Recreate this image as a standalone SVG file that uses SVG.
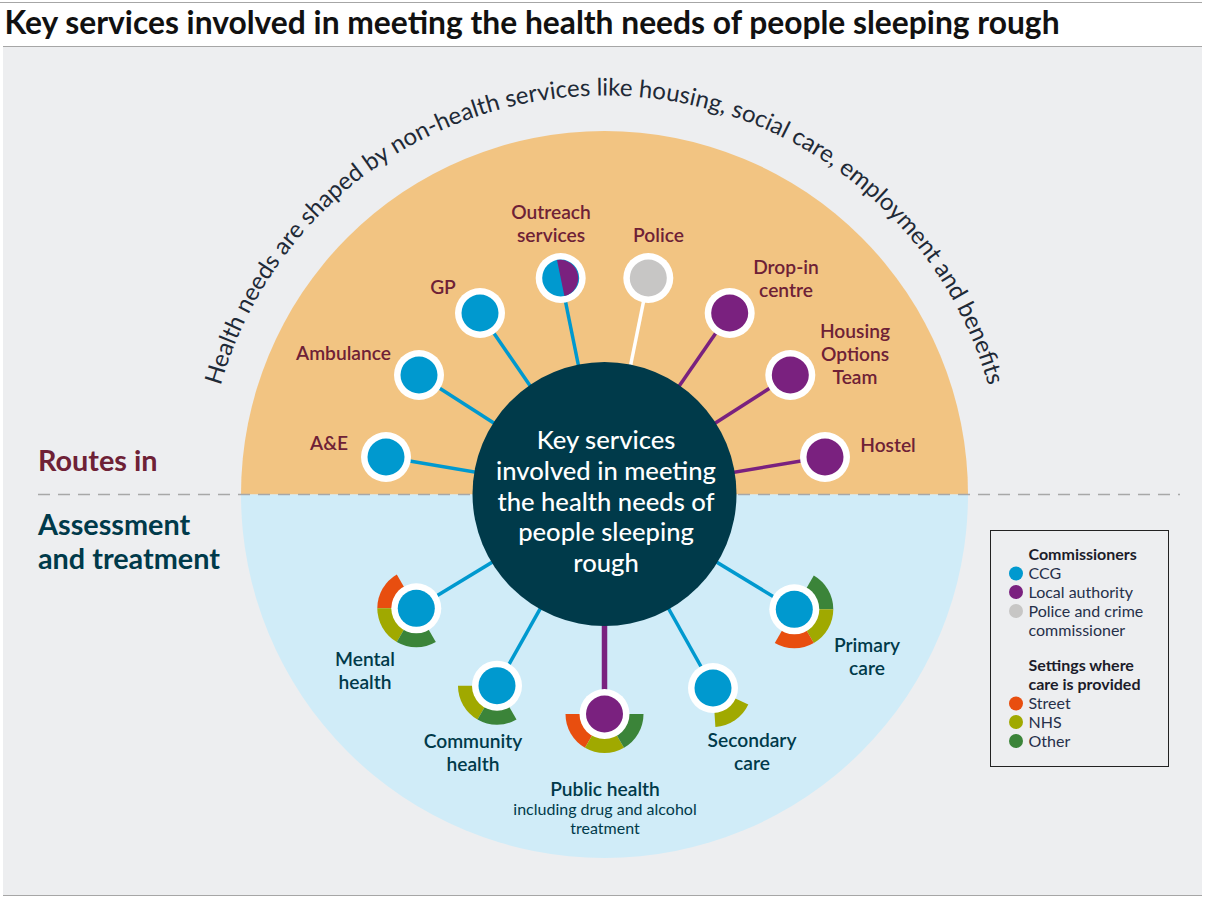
<svg xmlns="http://www.w3.org/2000/svg" width="1206" height="899" viewBox="0 0 1206 899">
<style>
text{font-family:Lato,"Noto Sans",sans-serif}
.r{font-size:19.200px;font-weight:600;fill:#6e2136;text-anchor:middle}
.a{font-size:19.200px;font-weight:600;fill:#003a4a;text-anchor:middle}
.c{font-size:25.600px;font-weight:500;fill:#fff;text-anchor:middle}
.h{font-size:28.800px;font-weight:700}
.l{font-size:16px;fill:#26304a}
.lb{font-size:16px;font-weight:700;fill:#1c1c2a}
.o{fill:#fff}
.blue{fill:#0099cf}.pur{fill:#7a217f}.gry{fill:#c7c6c5}
.st{fill:#e84e0f}.nh{fill:#a0a900}.ot{fill:#3b8439}
#connectors line{stroke-width:3.500}
</style>
<defs>
<path id="arc" d="M 205.500 494.500 A 399 399 0 0 1 1003.500 494.500"/>
</defs>
<rect width="1206" height="899" fill="#fff"/>
<rect x="3" y="47" width="1199" height="848" fill="#edeef0"/>
<path d="M0 2.500H1202M3 46.500H1202M3 895.500H1202" stroke="#a6a6a6" fill="none"/>
<text x="4.500" y="34" font-size="31.780" font-weight="700" fill="#111">Key services involved in meeting the health needs of people sleeping rough</text>
<path d="M241 494.500A363.500 363.500 0 0 1 968 494.500Z" fill="#f2c482"/>
<path d="M241 494.500A363.500 363.500 0 0 0 968 494.500Z" fill="#d0ecf8"/>
<line x1="38" y1="494.500" x2="1180" y2="494.500" stroke="#a8a8a8" stroke-width="1.500" stroke-dasharray="12 8"/>
<text font-size="24" fill="#1f2a37" text-anchor="middle"><textPath href="#arc" startOffset="50%">Health needs are shaped by non-health services like housing, social care, employment and benefits</textPath></text>
<text class="h" x="38" y="471" fill="#6e2136">Routes in</text>
<text class="h" x="38" y="535" fill="#003a4a">Assessment</text>
<text class="h" x="38" y="569" fill="#003a4a">and treatment</text>
<g id="connectors">
<line x1="604.500" y1="494" x2="386" y2="457" stroke="#0099cf"/>
<line x1="604.500" y1="494" x2="419" y2="375" stroke="#0099cf"/>
<line x1="604.500" y1="494" x2="480" y2="313" stroke="#0099cf"/>
<line x1="604.500" y1="494" x2="560.700" y2="278" stroke="#0099cf"/>
<line x1="604.500" y1="494" x2="648.300" y2="278" stroke="#fff"/>
<line x1="604.500" y1="494" x2="729.700" y2="313" stroke="#7a217f"/>
<line x1="604.500" y1="494" x2="790.300" y2="375" stroke="#7a217f"/>
<line x1="604.500" y1="494" x2="825" y2="457" stroke="#7a217f"/>
<line x1="604.500" y1="494" x2="416.300" y2="608.300" stroke="#0099cf"/>
<line x1="604.500" y1="494" x2="497" y2="685.700" stroke="#0099cf"/>
<line x1="604.500" y1="494" x2="604.500" y2="714" stroke="#7a217f" style="stroke-width:5.500"/>
<line x1="604.500" y1="494" x2="713" y2="688" stroke="#0099cf"/>
<line x1="604.500" y1="494" x2="794.300" y2="609.300" stroke="#0099cf"/>
</g>
<g id="centre">
<circle cx="604.500" cy="494" r="132" fill="#003a4a"/>
<text class="c" x="606" y="449">Key services</text>
<text class="c" x="606" y="480">involved in meeting</text>
<text class="c" x="606" y="511">the health needs of</text>
<text class="c" x="606" y="541">people sleeping</text>
<text class="c" x="606" y="572">rough</text>
</g>
<g id="ae"><circle class="o" cx="386" cy="457" r="25"/><circle class="blue" cx="386" cy="457" r="18.500"/><text class="r" x="329" y="450">A&amp;E</text></g>
<g id="ambulance"><circle class="o" cx="419" cy="375" r="25"/><circle class="blue" cx="419" cy="375" r="18.500"/><text class="r" x="343.500" y="360">Ambulance</text></g>
<g id="gp"><circle class="o" cx="480" cy="313" r="25"/><circle class="blue" cx="480" cy="313" r="18.500"/><text class="r" x="443" y="294">GP</text></g>
<g id="outreach"><circle class="o" cx="560.700" cy="278" r="25"/><circle class="blue" cx="560.700" cy="278" r="18.500"/><path class="pur" d="M557 259.900A18.500 18.500 0 0 1 564.400 296.100Z"/><text class="r" x="551" y="219">Outreach</text><text class="r" x="551" y="242">services</text></g>
<g id="police"><circle class="o" cx="648.300" cy="278" r="25"/><circle class="gry" cx="648.300" cy="278" r="18.500"/><text class="r" x="658.500" y="242">Police</text></g>
<g id="dropin"><circle class="o" cx="729.700" cy="313" r="25"/><circle class="pur" cx="729.700" cy="313" r="18.500"/><text class="r" x="786" y="274">Drop-in</text><text class="r" x="786" y="297">centre</text></g>
<g id="housing"><circle class="o" cx="790.300" cy="375" r="25"/><circle class="pur" cx="790.300" cy="375" r="18.500"/><text class="r" x="855" y="338">Housing</text><text class="r" x="855" y="361">Options</text><text class="r" x="855" y="384">Team</text></g>
<g id="hostel"><circle class="o" cx="825" cy="457" r="25"/><circle class="pur" cx="825" cy="457" r="18.500"/><text class="r" x="888" y="452">Hostel</text></g>
<g id="mental">
<path class="st" d="M377.300 608.300A39 39 0 0 1 396.800 574.500L416.300 608.300Z"/>
<path class="nh" d="M377.300 608.300A39 39 0 0 0 396.800 642.100L416.300 608.300Z"/>
<path class="ot" d="M396.800 642.100A39 39 0 0 0 435.800 642.100L416.300 608.300Z"/>
<circle class="o" cx="416.300" cy="608.300" r="25"/><circle class="blue" cx="416.300" cy="608.300" r="18.500"/>
<text class="a" x="365" y="666">Mental</text><text class="a" x="365" y="689">health</text></g>
<g id="community">
<path class="nh" d="M458 685.700A39 39 0 0 0 477.500 719.500L497 685.700Z"/>
<path class="ot" d="M477.500 719.500A39 39 0 0 0 516.500 719.500L497 685.700Z"/>
<circle class="o" cx="497" cy="685.700" r="25"/><circle class="blue" cx="497" cy="685.700" r="18.500"/>
<text class="a" x="473" y="748">Community</text><text class="a" x="473" y="771">health</text></g>
<g id="public">
<path class="st" d="M565.500 714A39 39 0 0 0 585 747.800L604.500 714Z"/>
<path class="nh" d="M585 747.800A39 39 0 0 0 624 747.800L604.500 714Z"/>
<path class="ot" d="M624 747.800A39 39 0 0 0 643.500 714L604.500 714Z"/>
<circle class="o" cx="604.500" cy="714" r="25"/><circle class="pur" cx="604.500" cy="714" r="18.500"/>
<text class="a" x="605" y="796">Public health</text><text x="605" y="815" font-size="16" fill="#003a4a" text-anchor="middle">including drug and alcohol</text><text x="605" y="834" font-size="16" fill="#003a4a" text-anchor="middle">treatment</text></g>
<g id="secondary">
<path class="nh" d="M715.400 726.900A39 39 0 0 0 748.300 704.500L713 688Z"/>
<circle class="o" cx="713" cy="688" r="25"/><circle class="blue" cx="713" cy="688" r="18.500"/>
<text class="a" x="752" y="747">Secondary</text><text class="a" x="752" y="770">care</text></g>
<g id="primary">
<path class="ot" d="M813.800 575.500A39 39 0 0 1 833.300 609.300L794.300 609.300Z"/>
<path class="nh" d="M833.300 609.300A39 39 0 0 1 813.800 643.100L794.300 609.300Z"/>
<path class="st" d="M813.800 643.100A39 39 0 0 1 774.800 643.100L794.300 609.300Z"/>
<circle class="o" cx="794.300" cy="609.300" r="25"/><circle class="blue" cx="794.300" cy="609.300" r="18.500"/>
<text class="a" x="867" y="652">Primary</text><text class="a" x="867" y="675">care</text></g>
<g id="legend">
<rect x="990.500" y="530.500" width="178" height="236" fill="none" stroke="#222"/>
<text class="lb" x="1028.500" y="560">Commissioners</text>
<circle class="blue" cx="1016" cy="573.500" r="7"/><text class="l" x="1028.500" y="579">CCG</text>
<circle class="pur" cx="1016" cy="592" r="7"/><text class="l" x="1028.500" y="598">Local authority</text>
<circle class="gry" cx="1016" cy="611" r="7"/><text class="l" x="1028.500" y="617">Police and crime</text>
<text class="l" x="1028.500" y="636">commissioner</text>
<text class="lb" x="1028.500" y="671">Settings where</text>
<text class="lb" x="1028.500" y="690">care is provided</text>
<circle class="st" cx="1016" cy="703.500" r="7"/><text class="l" x="1028.500" y="709">Street</text>
<circle class="nh" cx="1016" cy="722" r="7"/><text class="l" x="1028.500" y="728">NHS</text>
<circle class="ot" cx="1016" cy="741" r="7"/><text class="l" x="1028.500" y="747">Other</text>
</g>
</svg>
